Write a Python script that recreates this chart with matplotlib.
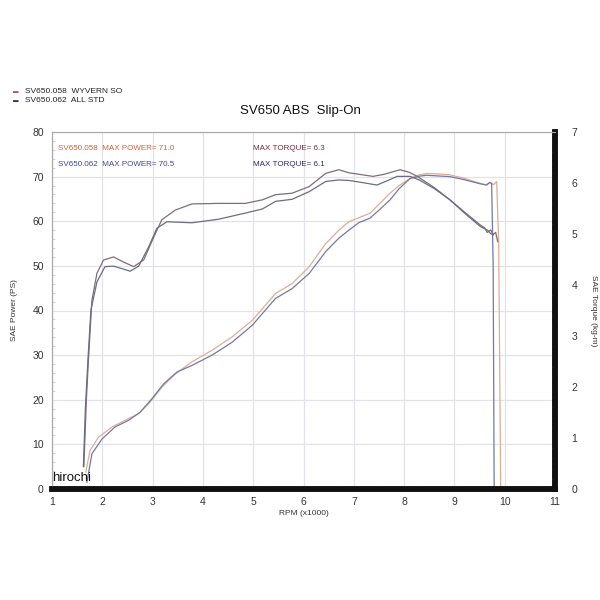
import matplotlib.pyplot as plt
import numpy as np

plt.rcParams['font.family'] = ['Liberation Sans', 'DejaVu Sans']

# power (PS) vs rpm (x1000)
rpm_p058 = [1.67, 1.75, 1.92, 2.19, 2.45, 2.72, 2.95, 3.18, 3.45, 3.78, 4.18, 4.58, 4.98, 5.44,
            5.77, 6.11, 6.44, 6.70, 6.90, 7.10, 7.32, 7.50, 7.72, 7.90, 8.12, 8.30, 8.45, 8.70,
            8.91, 9.20, 9.51, 9.62, 9.71, 9.78, 9.84, 9.88, 9.92]
pow_058 = [3.8, 8.6, 11.6, 13.9, 15.4, 16.9, 19.5, 22.8, 25.8, 28.5, 31.1, 34.1, 37.8, 43.8,
           46.0, 49.8, 55.0, 58.0, 59.9, 60.8, 61.8, 63.8, 66.3, 68.0, 69.6, 70.4, 70.7, 70.6,
           70.4, 69.6, 68.5, 68.2, 68.6, 68.2, 68.9, 55.0, 0.0]
rpm_p062 = [1.69, 1.79, 1.99, 2.25, 2.52, 2.75, 2.98, 3.22, 3.48, 3.78, 4.18, 4.58, 4.98, 5.44,
            5.77, 6.11, 6.44, 6.70, 6.90, 7.10, 7.32, 7.50, 7.72, 7.90, 8.12, 8.30, 8.45, 8.91,
            9.20, 9.51, 9.64, 9.70, 9.74, 9.77, 9.79]
pow_062 = [1.5, 7.9, 11.2, 13.9, 15.4, 17.2, 20.2, 23.6, 26.2, 27.7, 30.0, 32.9, 36.7, 42.7,
           44.9, 48.3, 53.2, 56.2, 58.0, 59.7, 60.7, 62.5, 64.8, 67.3, 69.6, 70.1, 70.3, 70.0,
           69.3, 68.4, 68.1, 68.7, 68.5, 50.0, 0.0]

# torque (kg-m) vs rpm (x1000)
rpm_t058 = [1.63, 1.68, 1.72, 1.79, 1.89, 2.02, 2.22, 2.42, 2.62, 2.82, 3.02, 3.18, 3.45, 3.78,
            4.31, 4.84, 5.18, 5.44, 5.77, 6.11, 6.44, 6.70, 6.90, 7.38, 7.60, 7.92, 8.10, 8.26,
            8.60, 8.91, 9.20, 9.51, 9.60, 9.65, 9.72, 9.77, 9.82, 9.86]
trq_058 = [0.44, 1.75, 2.52, 3.70, 4.23, 4.49, 4.55, 4.45, 4.36, 4.49, 4.94, 5.28, 5.47, 5.59,
           5.60, 5.60, 5.67, 5.77, 5.80, 5.93, 6.19, 6.26, 6.20, 6.13, 6.17, 6.26, 6.21, 6.13,
           5.91, 5.67, 5.43, 5.18, 5.12, 5.03, 5.08, 4.99, 5.03, 4.85]
rpm_t062 = [1.62, 1.66, 1.71, 1.77, 1.89, 2.05, 2.22, 2.39, 2.55, 2.72, 2.92, 3.08, 3.28, 3.78,
            4.31, 4.84, 5.18, 5.44, 5.77, 6.11, 6.44, 6.70, 6.90, 7.10, 7.46, 7.70, 7.86, 8.12,
            8.30, 8.60, 8.91, 9.20, 9.51, 9.65, 9.72, 9.77]
trq_062 = [0.44, 1.58, 2.52, 3.51, 4.06, 4.36, 4.37, 4.32, 4.27, 4.37, 4.75, 5.11, 5.24, 5.22,
           5.29, 5.41, 5.49, 5.64, 5.68, 5.83, 6.03, 6.06, 6.05, 6.02, 5.96, 6.06, 6.13, 6.13,
           6.06, 5.89, 5.67, 5.41, 5.15, 5.08, 5.01, 4.98]

c058_p = '#dcae96'
c062_p = '#7478a4'
c058_t = '#7d6f78'
c062_t = '#6c6c84'

fig = plt.figure(figsize=(6, 6), dpi=100)
ax = fig.add_axes([0.087, 0.185, 0.838, 0.595])
ax2 = ax.twinx()

kw = dict(lw=0.9, solid_joinstyle='round')
ax.plot(rpm_p058, pow_058, color=c058_p, **kw)
ax.plot(rpm_p062, pow_062, color=c062_p, **kw)
ax2.plot(rpm_t058, trq_058, color=c058_t, **kw)
ax2.plot(rpm_t062, trq_062, color=c062_t, **kw)

ax.set_xlim(1, 11)
ax.set_ylim(0, 80)
ax2.set_ylim(0, 7)
ax.set_xticks(range(1, 12))
ax.set_yticks(range(0, 81, 10))
ax2.set_yticks(range(0, 8))
ax.set_xticks(np.arange(1, 11.01, 0.2), minor=True)
ax.set_yticks(range(0, 81, 2), minor=True)
ax2.set_yticks(np.arange(0, 7.01, 0.2), minor=True)
ax.grid(True, color='#e2e2e8', lw=0.9)
ax.tick_params(labelsize=7.5, colors='#333333', length=0, pad=6)
ax.tick_params(which='minor', length=2, color='#cccccc', direction='in')
ax2.tick_params(labelsize=7.5, colors='#333333', length=0, pad=12)
ax2.tick_params(which='minor', length=2, color='#cccccc', direction='in')

for a in (ax, ax2):
    a.spines['top'].set_color('#aaaaaa')
    a.spines['left'].set_color('#aaaaaa')
    a.spines['top'].set_linewidth(0.8)
    a.spines['left'].set_linewidth(0.8)
    a.spines['bottom'].set_color('#111111')
    a.spines['bottom'].set_linewidth(4)
    a.spines['right'].set_color('#111111')
    a.spines['right'].set_linewidth(4)

ax.set_ylabel('SAE Power (PS)', fontsize=6, color='#333333', labelpad=10)
ax2.set_ylabel('SAE Torque (kg-m)', fontsize=6, color='#333333', rotation=-90, labelpad=14)
ax.set_xlabel('RPM (x1000)', fontsize=6, color='#333333', labelpad=2)

fig.text(0.5, 0.81, 'SV650 ABS  Slip-On', ha='center', fontsize=9.5, color='#111111')

# legend at top left
fig.text(0.022, 0.8467, '\u25ac', color='#b05060', fontsize=4, va='center')
fig.text(0.022, 0.8317, '\u25ac', color='#303060', fontsize=4, va='center')
fig.text(0.042, 0.8467, 'SV650.058  WYVERN SO', fontsize=6, va='center', color='#222222')
fig.text(0.042, 0.8317, 'SV650.062  ALL STD', fontsize=6, va='center', color='#222222')

ax.text(0.012, 0.955, 'SV650.058  MAX POWER= 71.0', transform=ax.transAxes, fontsize=5.8,
        color='#d0603a', va='center')
ax.text(0.012, 0.91, 'SV650.062  MAX POWER= 70.5', transform=ax.transAxes, fontsize=5.8,
        color='#3a4a9a', va='center')
ax.text(0.40, 0.955, 'MAX TORQUE= 6.3', transform=ax.transAxes, fontsize=5.8,
        color='#7a2a3a', va='center')
ax.text(0.40, 0.91, 'MAX TORQUE= 6.1', transform=ax.transAxes, fontsize=5.8,
        color='#2a2a6a', va='center')

fig.text(0.087, 0.198, 'hirochi', fontsize=9.5, color='#111111')

fig.savefig('out.png', dpi=100, facecolor='white')
